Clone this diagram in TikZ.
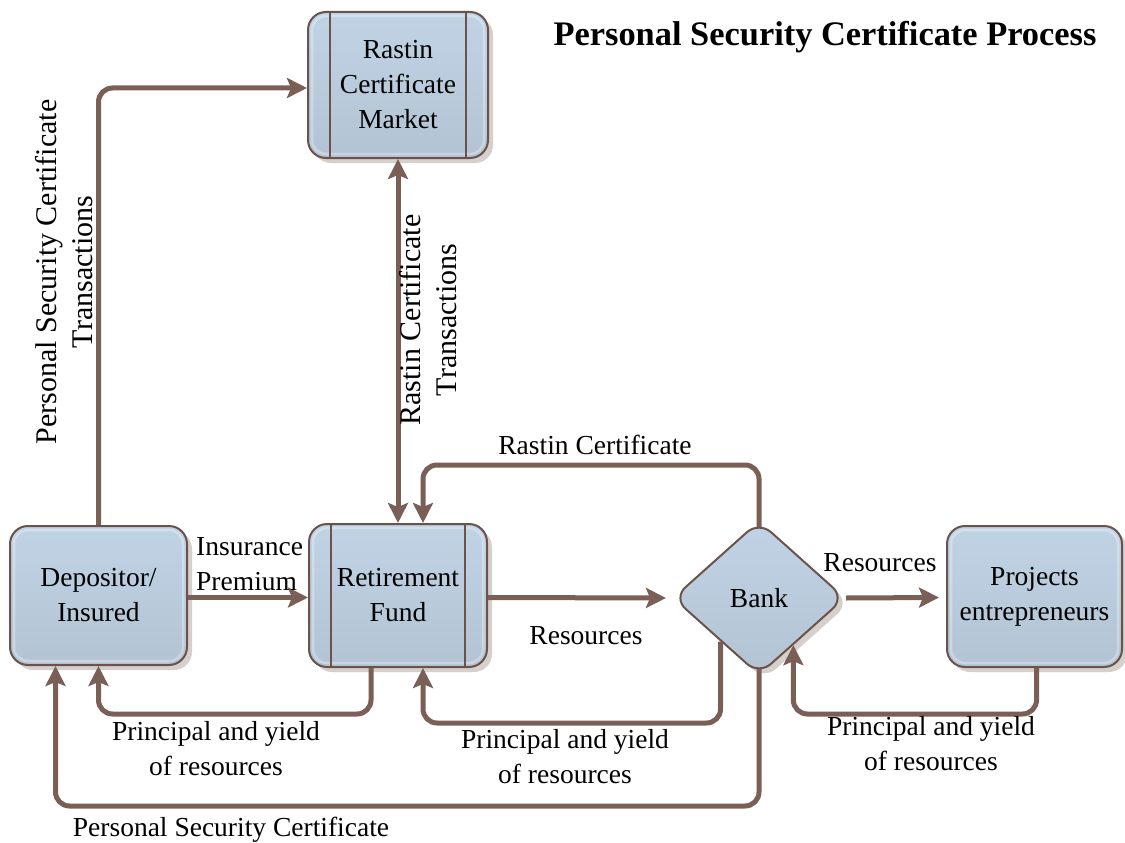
\documentclass[tikz,border=0pt]{standalone}
\usepackage{fontspec}
\IfFontExistsTF{LiberationSerif-Regular.ttf}
  {\setmainfont{LiberationSerif}[Extension=.ttf, UprightFont=*-Regular, BoldFont=*-Bold, ItalicFont=*-Italic, BoldItalicFont=*-BoldItalic]}
  {\setmainfont{Liberation Serif}}
\usetikzlibrary{shapes.geometric,shadows,arrows.meta,calc}
\definecolor{arrowc}{HTML}{7A5F57}
\definecolor{borderc}{HTML}{6B524B}
\definecolor{filltop}{HTML}{C0D3E5}
\definecolor{fillbot}{HTML}{B3C3D3}
\definecolor{shadowc}{HTML}{D6D0CC}
\newcommand\bodyfont{\fontsize{27.5pt}{35pt}\selectfont}
\newcommand\vertfont{\fontsize{30pt}{36pt}\selectfont}
\tikzset{
  boxstyle/.style={draw=borderc, line width=2pt, rounded corners=18pt,
    top color=filltop, bottom color=fillbot,
    drop shadow={shadow xshift=5pt, shadow yshift=-5pt, fill=shadowc, opacity=1},
    minimum width=178pt, minimum height=142pt, align=center, font=\bodyfont, inner sep=0pt},
  diastyle/.style={diamond, draw=borderc, line width=2pt, rounded corners=16pt,
    top color=filltop, bottom color=fillbot,
    drop shadow={shadow xshift=5pt, shadow yshift=-5pt, fill=shadowc, opacity=1},
    minimum width=172pt, minimum height=154pt, font=\bodyfont, inner sep=0pt},
  innerline/.style={draw=borderc, line width=1.6pt},
  rim/.style={draw=white, opacity=0.3, line width=2.5pt, rounded corners=14pt},
  conn/.style={draw=arrowc, line width=5pt, rounded corners=14pt,
    -{Stealth[length=20pt, width=20pt, inset=4pt]}},
  conn2/.style={draw=arrowc, line width=5pt,
    {Stealth[length=20pt, width=20pt, inset=4pt]}-{Stealth[length=20pt, width=20pt, inset=4pt]}},
  lbl/.style={font=\bodyfont, align=center, inner sep=0pt, text=black},
}
\begin{document}
\begin{tikzpicture}[x=1pt, y=-1pt]
\useasboundingbox (0,0) rectangle (1125,843);

% nodes
\node[boxstyle, minimum width=180pt, minimum height=146pt] (rcm) at (398,85) {Rastin\\Certificate\\Market};
\node[boxstyle, minimum width=177pt, minimum height=139pt] (dep) at (98.5,595.5) {Depositor/\\Insured};
\node[boxstyle, minimum width=178pt, minimum height=143pt] (rf) at (398,595.5) {Retirement\\Fund};
\node[diastyle] (bank) at (759,598) {Bank};
\node[boxstyle, minimum width=175pt, minimum height=141pt] (proj) at (1034.5,596.5) {Projects\\entrepreneurs};

% inner highlight rims
\foreach \n in {rcm,dep,rf,proj}{
  \draw[rim] ([shift={(5pt,-5pt)}]\n.north west) rectangle ([shift={(-5pt,5pt)}]\n.south east);
}

% inner vertical lines
\draw[innerline] ([xshift=23pt]rcm.north west) -- ([xshift=23pt]rcm.south west);
\draw[innerline] ([xshift=-23pt]rcm.north east) -- ([xshift=-23pt]rcm.south east);
\draw[innerline] ([xshift=23pt]rf.north west) -- ([xshift=23pt]rf.south west);
\draw[innerline] ([xshift=-23pt]rf.north east) -- ([xshift=-23pt]rf.south east);

% helper coordinates on the diamond edges
\coordinate (bankBL) at ($(bank.south)!0.442!(bank.west)$);
\coordinate (bankBR) at ($(bank.south)!0.395!(bank.east)$);

% connectors
\draw[conn] (dep.north) |- ([yshift=-3pt]rcm.west);
\draw[conn2] (rf.north) -- (rcm.south);
\draw[conn] ([yshift=-7pt]bank.north) |- ([xshift=25pt,yshift=58pt]rf.north) -- ([xshift=25pt]rf.north);
\draw[conn] ([yshift=-2pt]dep.east) -- ([yshift=-2pt]rf.west);
\draw[conn] ([yshift=-2pt]rf.east) -- ([xshift=-6pt]bank.west);
\draw[conn] (bank.east) -- ([xshift=-7pt,yshift=-1pt]proj.west);
\draw[conn] ([xshift=-27pt]rf.south) -- ++(0,46) -| (dep.south);
\draw[conn] (bankBL) |- ([xshift=25pt,yshift=-55pt]rf.south) -- ([xshift=25pt]rf.south);
\draw[conn] ([xshift=2pt]proj.south) -- ++(0,46) -| (bankBR);
\draw[conn] ([yshift=7pt]bank.south) -- ++(0,137) -| ([xshift=-43pt]dep.south);

% labels
\node[font=\bfseries\fontsize{34.4pt}{40pt}\selectfont, inner sep=0pt] (title) at (825,37) {Personal Security Certificate Process};
\node[lbl, font=\vertfont, rotate=90] (pscT) at (64,272) {Personal Security Certificate\\Transactions};
\node[lbl, font=\vertfont, rotate=90] (rctT) at (428,320) {Rastin Certificate\\Transactions};
\node[lbl] (rcL) at (595,445) {Rastin Certificate};
\node[lbl, align=left, anchor=west] (ipL) at (196,564) {Insurance\\Premium};
\node[lbl] (res1) at (586,636) {Resources};
\node[lbl] (res2) at (880,563) {Resources};
\node[lbl] (py1) at (216,749) {Principal and yield\\of resources};
\node[lbl] (py2) at (565,757) {Principal and yield\\of resources};
\node[lbl] (py3) at (931,744) {Principal and yield\\of resources};
\node[lbl] (psc) at (231,830) {Personal Security Certificate};
\end{tikzpicture}
\end{document}
